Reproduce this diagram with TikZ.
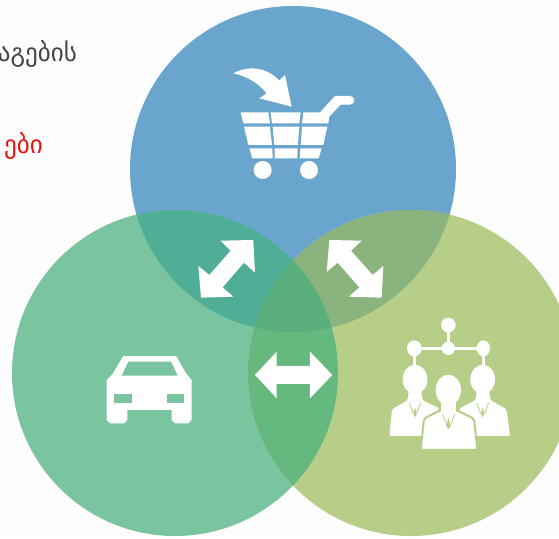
\documentclass[tikz,border=0pt]{standalone}
\usepackage{fontspec}
\newfontfamily\geo{DejaVu Sans}
\definecolor{bgc}{HTML}{FDFDFD}
\definecolor{cblue}{HTML}{6AA5CE}
\definecolor{cgreen}{HTML}{7AC5A0}
\definecolor{colive}{HTML}{B7CE89}
\definecolor{bg}{HTML}{4FAE95}
\definecolor{bo}{HTML}{8BB37E}
\definecolor{go}{HTML}{65B87E}
\definecolor{bgo}{HTML}{5AAF7C}
\definecolor{tgrey}{HTML}{444444}
\definecolor{tred}{HTML}{F01010}
\tikzset{
  icon/.style={fill=white,draw=none},
  lbl/.style={anchor=base east,inner sep=0pt,font=\geo\fontsize{25}{25}\selectfont},
  zoomA/.style={shift={(220,60)},x=0.3333pt,y=-0.3333pt},
  zoomB/.style={shift={(380,310)},x=0.3333pt,y=-0.3333pt},
  zoomC/.style={shift={(95,345)},x=0.3333pt,y=-0.3333pt},
  zoomD/.style={shift={(190,230)},x=0.3333pt,y=-0.3333pt},
}
\def\cb{(293,169) circle [radius=163]}
\def\cg{(175,373) circle [radius=163]}
\def\co{(411,373) circle [radius=163]}
\begin{document}
\begin{tikzpicture}[x=1pt,y=-1pt]
\useasboundingbox (0,0) rectangle (559,538);
\clip (0,0) rectangle (559,538);
\fill[bgc] (0,0) rectangle (559,538);
\node[lbl,text=tgrey] (t1) at (77,61) {აგების};
\node[lbl,text=tred] (t2) at (43,153) {ები};
% circles
\fill[cblue] \cb;
\fill[cgreen] \cg;
\fill[colive] \co;
\begin{scope}\clip \cb; \fill[bg] \cg; \fill[bo] \co; \clip \cg; \fill[bgo] \co; \end{scope}
\begin{scope}\clip \cg; \clip \co; \fill[go] (0,0) rectangle (559,538); \clip \cb; \fill[bgo] (0,0) rectangle (559,538); \end{scope}
% cart
\begin{scope}[zoomA]
\fill[icon] (40,40) .. controls (95,10) and (150,30) .. (178,62) -- (195,45) -- (215,140) -- (118,115) -- (140,100) .. controls (115,70) and (85,50) .. cycle;
\fill[icon] (62,157) -- (145,157) -- (150,190) -- (70,190) -- cycle;
\fill[icon] (152,157) -- (242,157) -- (238,190) -- (156,190) -- cycle;
\fill[icon] (250,157) -- (300,157) -- (345,108) -- (390,108) -- (390,134) -- (362,134) -- (328,170) -- (325,190) -- (246,190) -- cycle;
\fill[icon] (390,121) circle [radius=13];
\fill[icon] (72,200) -- (150,200) -- (156,255) -- (85,255) -- cycle;
\fill[icon] (158,200) -- (238,200) -- (234,255) -- (163,255) -- cycle;
\fill[icon] (246,200) -- (322,200) -- (310,255) -- (242,255) -- cycle;
\fill[icon] (88,265) -- (157,265) -- (158,295) -- (97,295) -- cycle;
\fill[icon] (164,265) -- (233,265) -- (232,295) -- (164,295) -- cycle;
\fill[icon] (241,265) -- (305,265) -- (296,295) -- (239,295) -- cycle;
\fill[icon] (128,330) circle [radius=27];
\fill[icon] (267,330) circle [radius=27];
\end{scope}
% car
\begin{scope}[zoomC]
\fill[icon] (85,33) -- (243,33) -- (275,88) -- (290,105) -- (290,225) -- (280,235) -- (240,235) -- (230,225) -- (230,195) -- (97,195) -- (97,225) -- (87,235) -- (45,235) -- (35,225) -- (35,105) -- (52,88) -- cycle;
\fill[cgreen] (100,50) -- (228,50) -- (248,92) -- (80,92) -- cycle;
\fill[cgreen] (58,148) rectangle (110,175);
\fill[cgreen] (217,148) rectangle (268,175);
\end{scope}
% double arrows
\begin{scope}[zoomD]
\fill[icon] (190,30) -- (195,128) -- (162,98) -- (98,172) -- (130,200) -- (33,203) -- (25,108) -- (58,135) -- (122,62) -- (92,32) -- cycle;
\fill[icon] (418,30) -- (515,32) -- (483,62) -- (548,135) -- (580,108) -- (575,203) -- (477,200) -- (508,172) -- (443,98) -- (410,126) -- cycle;
\fill[icon] (195,435) -- (260,365) -- (260,408) -- (360,408) -- (360,365) -- (427,435) -- (360,505) -- (360,462) -- (260,462) -- (260,505) -- cycle;
\end{scope}
% people
\begin{scope}[zoomB]
\draw[white,line width=2.7pt] (205,45) -- (205,115) (103,115) -- (310,115) (103,115) -- (103,170) (310,115) -- (310,170);
\fill[icon] (205,45) circle [radius=22];
\fill[icon] (205,115) circle [radius=20];
\fill[icon] (103,115) ellipse [x radius=22, y radius=24];
\fill[icon] (310,115) ellipse [x radius=20, y radius=24];
% left person
\fill[icon] (105,208) ellipse [x radius=37, y radius=44];
\fill[icon,rounded corners=2pt] (28,378) -- (36,298) -- (84,270) -- (86,235) -- (124,235) -- (126,270) -- (178,295) -- (178,378) -- cycle;
\draw[colive,line width=.8pt] (88,278) -- (100,310) (122,278) -- (110,310);
\fill[colive] (105,292) -- (110,312) -- (105,322) -- (100,312) -- cycle;
% right person
\fill[icon] (308,208) ellipse [x radius=37, y radius=44];
\fill[icon,rounded corners=2pt] (390,378) -- (380,298) -- (330,270) -- (328,235) -- (290,235) -- (288,270) -- (238,295) -- (238,378) -- cycle;
\draw[colive,line width=.8pt] (290,278) -- (302,310) (326,278) -- (314,310);
\fill[colive] (308,292) -- (313,312) -- (308,322) -- (303,312) -- cycle;
% centre person
\fill[icon,draw=colive,line width=2pt,rounded corners=2pt] (122,420) -- (132,326) -- (182,300) -- (228,300) -- (282,326) -- (292,420) -- cycle;
\fill[icon] (205,240) ellipse [x radius=38, y radius=46];
\fill[icon] (182,270) rectangle (228,312);
\draw[colive,line width=.8pt] (188,312) -- (202,350) (224,312) -- (210,350);
\fill[colive] (205,322) -- (211,348) -- (205,358) -- (199,348) -- cycle;
\end{scope}
\end{tikzpicture}
\end{document}
